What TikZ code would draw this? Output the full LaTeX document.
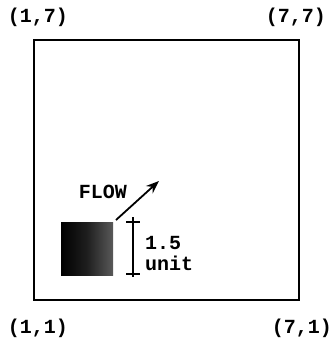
\documentclass[tikz,border=0pt]{standalone}
\usepackage{fontspec}
\setmonofont{Liberation Mono}
\usetikzlibrary{arrows.meta}
\tikzset{
  lbl/.style={font=\ttfamily\bfseries\fontsize{20}{22}\selectfont, inner sep=0pt},
  frame/.style={draw=black, line width=1.8pt},
  flowarrow/.style={draw=black, line width=1.8pt, -{Stealth[length=13pt,width=10pt]}},
  bar/.style={draw=black, line width=1.3pt}
}
\begin{document}
\begin{tikzpicture}[x=1pt,y=-1pt]
\useasboundingbox (0,0) rectangle (332,343);
% frame
\draw[frame] (34,40) rectangle (299,300);
% corner labels
\node[lbl] (tl) at (38,17) {(1,7)};
\node[lbl] (tr) at (296,17) {(7,7)};
\node[lbl] (bl) at (38,328) {(1,1)};
\node[lbl] (br) at (302,328) {(7,1)};
% square obstacle
\shade[left color=black, right color=black!65, middle color=black!88] (61,222) rectangle (113,275);
\coordinate (sq) at (116,220);
\coordinate (tip) at (159,181);
\draw[flowarrow] (sq) -- (tip);
\node[lbl] (flow) at (103,192) {FLOW};
% scale bar
\coordinate (bt) at (133,217);
\coordinate (bb) at (133,277);
\draw[bar] (bt) -- (bb);
\draw[bar] (126,222) -- (140,222);
\draw[bar] (126,274) -- (140,274);
\node[lbl, anchor=west] (one) at (145,243) {1.5};
\node[lbl, anchor=west] (unit) at (145,263) {unit};
\end{tikzpicture}
\end{document}
